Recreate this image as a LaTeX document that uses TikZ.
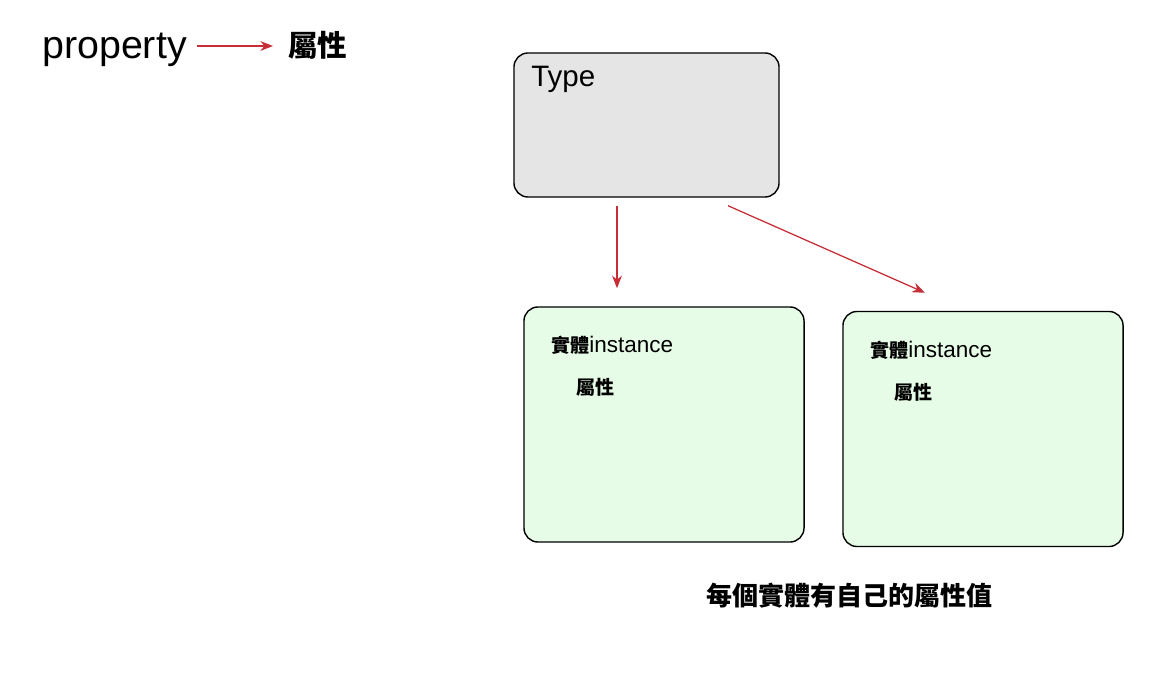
\documentclass[tikz,border=0pt]{standalone}
\usepackage{fontspec}
\setmainfont{Liberation Sans}
\newfontfamily\cjk{Noto Sans CJK TC}
\usetikzlibrary{arrows.meta, positioning}
\definecolor{arrred}{HTML}{C62D36}
\definecolor{typegray}{HTML}{E5E5E5}
\definecolor{instgreen}{HTML}{E6FCE6}
\tikzset{
  boxnode/.style={draw=black,line width=1pt,rounded corners=10pt,inner sep=0pt},
  typenode/.style={boxnode,fill=typegray,minimum width=6.625cm,minimum height=3.6cm},
  instnode/.style={boxnode,fill=instgreen,minimum width=7cm,minimum height=5.875cm},
  txtnode/.style={inner sep=0pt,anchor=west},
  cjktxt/.style={txtnode,font=\cjk\bfseries\fontsize{#1}{#1}\selectfont},
  instlbl/.style={txtnode,font=\fontsize{16}{18}\selectfont},
  propedge/.style={-{Stealth[length=9pt,width=7pt]},arrred,line width=0.9pt},
}
\begin{document}
\begin{tikzpicture}[x=0.025cm,y=-0.025cm]
  \useasboundingbox (0,0) rectangle (1176,675);
  % legend
  \node[txtnode,font=\fontsize{28}{30}\selectfont] (nProp) at (42,50) {property};
  \node[cjktxt=21] (nAttr) at (288,45) {屬性};
  \draw[propedge,shorten <=0.25cm,shorten >=0.375cm] ([yshift=0.1cm]nProp.east) -- ([yshift=0.1cm]nProp.east -| nAttr.west);
  % boxes
  \node[typenode] (tType) at (646.5,125) {};
  \node[txtnode,font=\fontsize{21}{24}\selectfont] (tTypeLbl) at (531,79) {Type};
  \node[instnode] (iOne) at (664,424.5) {};
  \node[instnode] (iTwo) at (983,429) {};
  \node[instlbl] (iOneLbl) at (551,345) {{\cjk\bfseries\fontsize{13.5}{16}\selectfont 實體}instance};
  \node[cjktxt=13.5] (iOneAttr) at (576,387) {屬性};
  \node[instlbl] (iTwoLbl) at (870,350) {{\cjk\bfseries\fontsize{13.5}{16}\selectfont 實體}instance};
  \node[cjktxt=13.5] (iTwoAttr) at (894,392) {屬性};
  % arrows
  \draw[propedge,shorten <=0.2cm,shorten >=0.45cm] ([xshift=-0.7375cm]tType.south) -- ([xshift=-0.7375cm]tType.south |- iOne.north);
  \draw[propedge] ([xshift=2.0375cm,yshift=-0.2cm]tType.south) -- ([xshift=-1.45cm,yshift=0.45cm]iTwo.north);
  % note
  \node[cjktxt=18.5] (nNote) at (706,596) {每個實體有自己的屬性值};
\end{tikzpicture}
\end{document}
